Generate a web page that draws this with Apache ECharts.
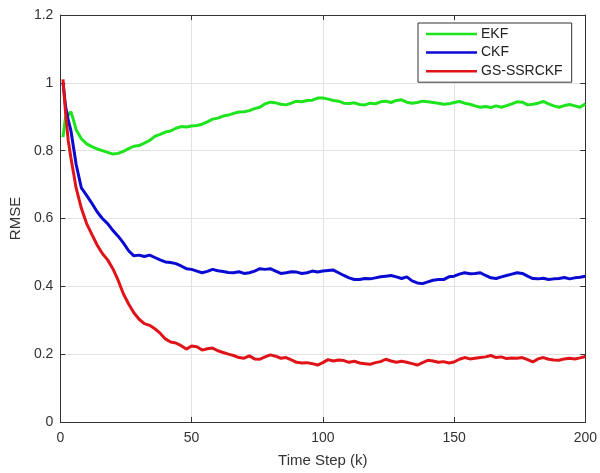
<!DOCTYPE html>
<html>
<head>
<meta charset="utf-8">
<script src="https://cdn.jsdelivr.net/npm/echarts@6/dist/echarts.min.js"></script>
<style>
  html, body { margin: 0; padding: 0; background: #fff; }
  #chart { width: 600px; height: 473px; }
</style>
</head>
<body>
<div id="chart"></div>
<script>
const steps = [1, 2, 3, 4, 5, 6, 8, 10, 12, 14,
  16, 18, 20, 22, 24, 26, 28, 30, 32, 34,
  36, 38, 40, 42, 44, 46, 48, 50, 52, 54,
  56, 58, 60, 62, 64, 66, 68, 70, 72, 74,
  76, 78, 80, 82, 84, 86, 88, 90, 92, 94,
  96, 98, 100, 102, 104, 106, 108, 110, 112, 114,
  116, 118, 120, 122, 124, 126, 128, 130, 132, 134,
  136, 138, 140, 142, 144, 146, 148, 150, 152, 154,
  156, 158, 160, 162, 164, 166, 168, 170, 172, 174,
  176, 178, 180, 182, 184, 186, 188, 190, 192, 194,
  196, 198, 200];

const ekf = [0.84, 0.9, 0.905, 0.915, 0.89, 0.862, 0.835, 0.82, 0.812, 0.805,
  0.80, 0.795, 0.79, 0.792, 0.798, 0.806, 0.813, 0.815, 0.822, 0.83,
  0.842, 0.848, 0.855, 0.858, 0.866, 0.871, 0.87, 0.873, 0.874, 0.878,
  0.885, 0.893, 0.896, 0.902, 0.905, 0.91, 0.914, 0.915, 0.918, 0.924,
  0.928, 0.938, 0.943, 0.941, 0.937, 0.935, 0.94, 0.946, 0.944, 0.948,
  0.949, 0.955, 0.955, 0.952, 0.948, 0.946, 0.94, 0.939, 0.941, 0.936,
  0.935, 0.94, 0.938, 0.944, 0.946, 0.942, 0.948, 0.95, 0.943, 0.94,
  0.942, 0.946, 0.944, 0.942, 0.94, 0.937, 0.938, 0.942, 0.945, 0.94,
  0.937, 0.932, 0.928, 0.93, 0.927, 0.932, 0.928, 0.933, 0.938, 0.944,
  0.943, 0.935, 0.937, 0.94, 0.945, 0.938, 0.932, 0.928, 0.933, 0.936,
  0.932, 0.928, 0.938];

const ckf = [1.0, 0.93, 0.89, 0.86, 0.81, 0.76, 0.69, 0.668, 0.645, 0.62,
  0.60, 0.585, 0.565, 0.548, 0.528, 0.505, 0.49, 0.492, 0.488, 0.492,
  0.485, 0.478, 0.472, 0.47, 0.467, 0.46, 0.452, 0.45, 0.445, 0.44,
  0.444, 0.45, 0.446, 0.444, 0.441, 0.44, 0.443, 0.438, 0.44, 0.445,
  0.452, 0.45, 0.452, 0.445, 0.438, 0.44, 0.443, 0.442, 0.438, 0.44,
  0.445, 0.442, 0.445, 0.447, 0.448, 0.44, 0.432, 0.425, 0.42, 0.42,
  0.423, 0.422, 0.425, 0.428, 0.43, 0.432, 0.428, 0.423, 0.428, 0.416,
  0.41, 0.408, 0.413, 0.418, 0.42, 0.42, 0.428, 0.43, 0.436, 0.44,
  0.437, 0.438, 0.44, 0.432, 0.425, 0.423, 0.428, 0.432, 0.436, 0.44,
  0.438, 0.43, 0.423, 0.422, 0.424, 0.42, 0.422, 0.423, 0.426, 0.422,
  0.425, 0.427, 0.43];

const gsSsrckf = [1.01, 0.91, 0.83, 0.78, 0.735, 0.69, 0.63, 0.585, 0.553, 0.522,
  0.497, 0.478, 0.452, 0.418, 0.378, 0.348, 0.322, 0.303, 0.29, 0.285,
  0.275, 0.262, 0.245, 0.236, 0.233, 0.225, 0.215, 0.224, 0.222, 0.212,
  0.216, 0.218, 0.21, 0.205, 0.2, 0.196, 0.19, 0.188, 0.195, 0.186,
  0.185, 0.192, 0.198, 0.194, 0.188, 0.19, 0.183, 0.176, 0.174, 0.175,
  0.172, 0.168, 0.175, 0.184, 0.18, 0.183, 0.181, 0.176, 0.179, 0.174,
  0.172, 0.17, 0.175, 0.178, 0.185, 0.18, 0.176, 0.179, 0.176, 0.172,
  0.168, 0.175, 0.182, 0.18, 0.176, 0.178, 0.174, 0.177, 0.185, 0.19,
  0.186, 0.188, 0.19, 0.192, 0.196, 0.19, 0.192, 0.187, 0.189, 0.188,
  0.19, 0.184, 0.177, 0.186, 0.19, 0.185, 0.183, 0.182, 0.186, 0.188,
  0.186, 0.189, 0.193];

const seriesNames = ['EKF', 'CKF', 'GS-SSRCKF'];
const colors = ['#1ee41e', '#0a0ad2', '#e01418'];

const chart = echarts.init(document.getElementById('chart'));

const font = 'Liberation Sans, Arial, sans-serif';
const boxLine = { show: true, onZero: false, lineStyle: { color: '#333', width: 1 } };
// negative length draws the ticks into the plot box (MATLAB style)
const innerTick = { show: true, length: -5, lineStyle: { color: '#333' } };

function pairs(values) {
  return steps.map((k, i) => [k, values[i]]);
}

chart.setOption({
  animation: false,
  backgroundColor: '#fff',
  grid: { left: 59, right: 14, top: 15, bottom: 50 },
  legend: {
    orient: 'vertical',
    left: 418,
    top: 23,
    padding: [4, 9, 4, 8],
    itemWidth: 51,
    itemHeight: 14,
    itemGap: 4.6,
    borderColor: '#333',
    borderWidth: 1,
    backgroundColor: '#fff',
    textStyle: { fontFamily: font, fontSize: 14, color: '#222', padding: [0, 0, 0, -1] },
    icon: 'path://M0,6 L51,6 L51,8.5 L0,8.5 Z',
    data: seriesNames
  },
  xAxis: [{
    type: 'value',
    min: 0,
    max: 200,
    interval: 50,
    name: 'Time Step (k)',
    nameLocation: 'middle',
    nameGap: 31,
    nameTextStyle: { fontFamily: font, fontSize: 15, color: '#333' },
    axisLine: boxLine,
    axisTick: innerTick,
    axisLabel: { fontFamily: font, fontSize: 14, color: '#333', margin: 9 },
    splitLine: { show: true, lineStyle: { color: '#e2e2e2', width: 1 } }
  }, {
    type: 'value',
    position: 'top',
    min: 0,
    max: 200,
    interval: 50,
    axisLine: boxLine,
    axisTick: innerTick,
    axisLabel: { show: false },
    splitLine: { show: false }
  }],
  yAxis: [{
    type: 'value',
    min: 0,
    max: 1.2,
    interval: 0.2,
    name: 'RMSE',
    nameLocation: 'middle',
    nameGap: 36,
    nameTextStyle: { fontFamily: font, fontSize: 15, color: '#333' },
    axisLine: boxLine,
    axisTick: innerTick,
    axisLabel: {
      fontFamily: font, fontSize: 14, color: '#333', margin: 7,
      formatter: v => (Math.round(v * 10) / 10).toString()
    },
    splitLine: { show: true, lineStyle: { color: '#e2e2e2', width: 1 } }
  }, {
    type: 'value',
    position: 'right',
    min: 0,
    max: 1.2,
    interval: 0.2,
    axisLine: boxLine,
    axisTick: innerTick,
    axisLabel: { show: false },
    splitLine: { show: false }
  }],
  series: [ekf, ckf, gsSsrckf].map((vals, i) => ({
    name: seriesNames[i],
    type: 'line',
    data: pairs(vals),
    showSymbol: false,
    symbol: 'none',
    lineStyle: { color: colors[i], width: 3 },
    itemStyle: { color: colors[i] },
    z: 3 + i
  }))
});

window.addEventListener('resize', () => chart.resize());
</script>
</body>
</html>
